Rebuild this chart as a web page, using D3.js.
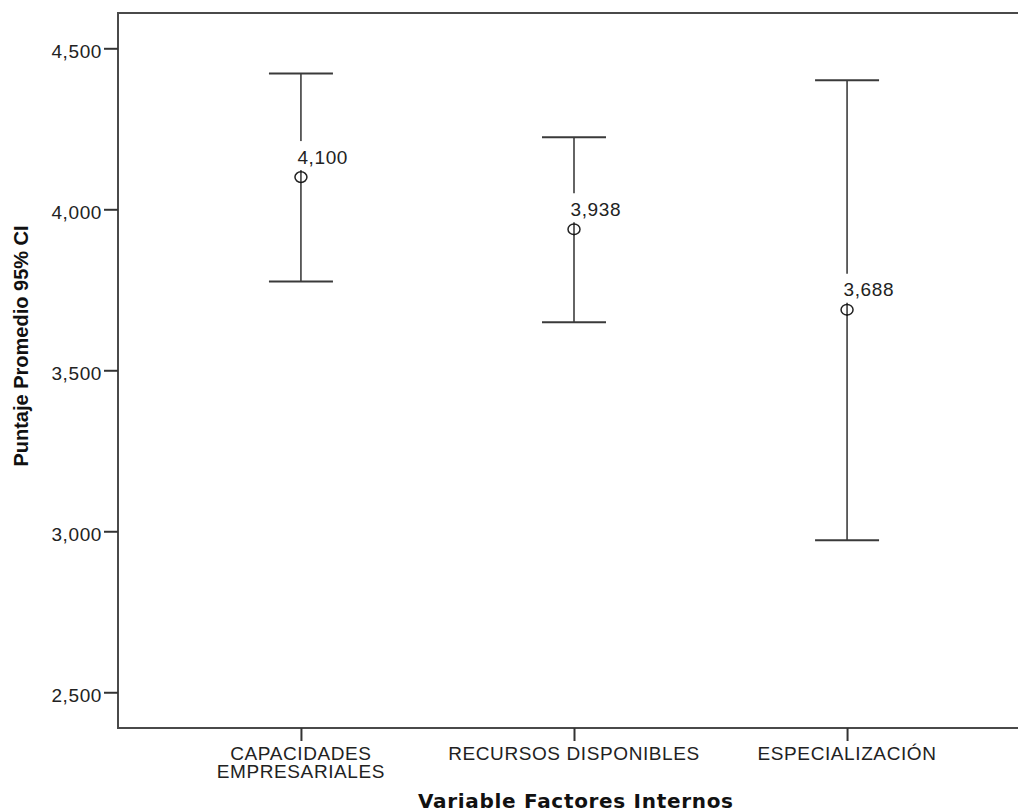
<!DOCTYPE html>
<html>
<head>
<meta charset="utf-8">
<script src="https://cdn.jsdelivr.net/npm/d3@7"></script>
<style>
  body { margin: 0; background: #fff; }
  svg { display: block; }
</style>
</head>
<body>
<div id="chart"></div>
<script>
// values
const categories = ["CAPACIDADES\nEMPRESARIALES", "RECURSOS DISPONIBLES", "ESPECIALIZACIÓN"];
const means = [4.100, 3.938, 3.688];
const lower = [3.776, 3.649, 2.972];
const upper = [4.422, 4.224, 4.401];
const yTicks = [2.5, 3.0, 3.5, 4.0, 4.5];

const width = 1018, height = 812;
const margin = {top: 13, right: -12, bottom: 84, left: 118};
const labelFont = "'Liberation Sans', Arial, sans-serif";

const fmt = v => d3.format(",.3f")(v).replace(".", ",");

const svg = d3.select("#chart").append("svg")
    .attr("width", width)
    .attr("height", height)
    .attr("font-family", labelFont);

const x = d3.scalePoint()
    .domain(d3.range(categories.length))
    .range([margin.left, width - margin.right])
    .padding(0.67);

const y = d3.scaleLinear()
    .domain([2.389, 4.6096])
    .range([height - margin.bottom, margin.top]);

// frame (right side runs past the picture)
svg.append("rect")
    .attr("x", margin.left)
    .attr("y", margin.top)
    .attr("width", width - margin.right - margin.left)
    .attr("height", y.range()[0] - margin.top)
    .attr("fill", "none")
    .attr("stroke", "#4a4a4a")
    .attr("stroke-width", 2);

// y axis
const yAxis = svg.append("g")
    .attr("transform", `translate(${margin.left},0)`)
    .call(d3.axisLeft(y).tickValues(yTicks).tickSize(14).tickPadding(2).tickFormat(fmt));
yAxis.select(".domain").remove();
yAxis.selectAll(".tick line").attr("stroke", "#333").attr("stroke-width", 2);
yAxis.selectAll(".tick text")
    .attr("font-size", 19)
    .attr("letter-spacing", 0.6)
    .attr("dy", "0.49em")
    .attr("fill", "#222")
    .attr("font-family", labelFont);

// x axis
const xAxis = svg.append("g")
    .attr("transform", `translate(0,${y.range()[0]})`)
    .call(d3.axisBottom(x).tickSize(13).tickFormat(""));
xAxis.select(".domain").remove();
xAxis.selectAll(".tick text").remove();
xAxis.selectAll(".tick line").attr("stroke", "#333").attr("stroke-width", 2);

svg.append("g")
    .selectAll("text")
    .data(categories)
    .join("text")
    .attr("y", y.range()[0] + 32)
    .attr("text-anchor", "middle")
    .attr("font-size", 19)
    .attr("letter-spacing", 0.6)
    .attr("fill", "#222")
    .each(function(d, i) {
        d.split("\n").forEach((line, j) => {
            d3.select(this).append("tspan")
                .attr("x", x(i))
                .attr("dy", j === 0 ? 0 : 18)
                .text(line);
        });
    });

// axis titles
svg.append("text")
    .attr("x", 575.5)
    .attr("y", 808)
    .attr("text-anchor", "middle")
    .attr("font-family", "'DejaVu Sans', Verdana, sans-serif")
    .attr("font-size", 20)
    .attr("font-weight", "bold")
    .attr("fill", "#111")
    .attr("textLength", 315)
    .text("Variable Factores Internos");

svg.append("text")
    .attr("transform", "translate(28,346) rotate(-90)")
    .attr("text-anchor", "middle")
    .attr("font-size", 20)
    .attr("font-weight", "bold")
    .attr("fill", "#111")
    .text("Puntaje Promedio 95% CI");

// error bars
const bars = svg.append("g")
    .selectAll("g")
    .data(means.map((m, i) => ({i, m, lo: lower[i], hi: upper[i]})))
    .join("g");

bars.append("line")
    .attr("x1", d => x(d.i)).attr("x2", d => x(d.i))
    .attr("y1", d => y(d.hi)).attr("y2", d => y(d.lo))
    .attr("stroke", "#111").attr("stroke-width", 1.3);

bars.selectAll("line.cap")
    .data(d => [d.hi, d.lo].map(v => ({i: d.i, v})))
    .join("line")
    .attr("class", "cap")
    .attr("x1", d => x(d.i) - 32).attr("x2", d => x(d.i) + 32)
    .attr("y1", d => y(d.v)).attr("y2", d => y(d.v))
    .attr("stroke", "#3a3a3a").attr("stroke-width", 2);

// white box behind the value hides the whisker there
bars.append("rect")
    .attr("x", d => x(d.i) - 8)
    .attr("y", d => y(d.m) - 36)
    .attr("width", 62)
    .attr("height", 29)
    .attr("fill", "#fff");

bars.append("text")
    .attr("x", d => x(d.i) - 3.5)
    .attr("y", d => y(d.m) - 13.5)
    .attr("font-size", 19)
    .attr("letter-spacing", 0.6)
    .attr("fill", "#222")
    .text(d => fmt(d.m));

bars.append("ellipse")
    .attr("cx", d => x(d.i))
    .attr("cy", d => y(d.m))
    .attr("rx", 6)
    .attr("ry", 5.3)
    .attr("fill", "#fff")
    .attr("stroke", "#222")
    .attr("stroke-width", 1.5);

bars.append("line")
    .attr("x1", d => x(d.i)).attr("x2", d => x(d.i))
    .attr("y1", d => y(d.m) - 5.3).attr("y2", d => y(d.m) + 6)
    .attr("stroke", "#111").attr("stroke-width", 1.3);
</script>
</body>
</html>
